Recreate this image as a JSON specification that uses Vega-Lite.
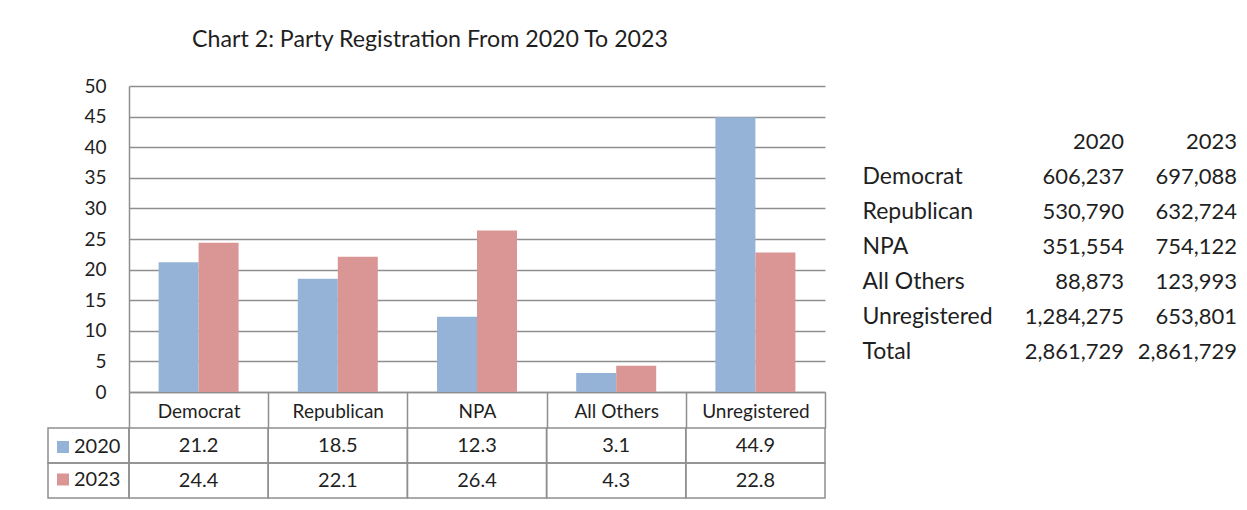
{
  "$schema": "https://vega.github.io/schema/vega-lite/v6.json",
  "padding": {"left": 47, "top": 27, "right": 5, "bottom": 5},
  "background": "white",
  "datasets": {
    "shares": [
      {"party": "Democrat", "year": "2020", "share": 21.2},
      {"party": "Democrat", "year": "2023", "share": 24.4},
      {"party": "Republican", "year": "2020", "share": 18.5},
      {"party": "Republican", "year": "2023", "share": 22.1},
      {"party": "NPA", "year": "2020", "share": 12.3},
      {"party": "NPA", "year": "2023", "share": 26.4},
      {"party": "All Others", "year": "2020", "share": 3.1},
      {"party": "All Others", "year": "2023", "share": 4.3},
      {"party": "Unregistered", "year": "2020", "share": 44.9},
      {"party": "Unregistered", "year": "2023", "share": 22.8}
    ],
    "counts": [
      {"party": "Democrat", "year": "2020", "count": 606237},
      {"party": "Democrat", "year": "2023", "count": 697088},
      {"party": "Republican", "year": "2020", "count": 530790},
      {"party": "Republican", "year": "2023", "count": 632724},
      {"party": "NPA", "year": "2020", "count": 351554},
      {"party": "NPA", "year": "2023", "count": 754122},
      {"party": "All Others", "year": "2020", "count": 88873},
      {"party": "All Others", "year": "2023", "count": 123993},
      {"party": "Unregistered", "year": "2020", "count": 1284275},
      {"party": "Unregistered", "year": "2023", "count": 653801},
      {"party": "Total", "year": "2020", "count": 2861729},
      {"party": "Total", "year": "2023", "count": 2861729}
    ]
  },
  "columns": 3,
  "spacing": {"row": 36, "column": 0},
  "bounds": "flush",
  "concat": [
    {
      "width": 81, "height": 306,
      "data": {"values": [{"blank": ""}]},
      "mark": {"type": "text"},
      "encoding": {"text": {"field": "blank", "type": "nominal"}}
    },
    {
      "width": 696, "height": 306,
      "title": {"text": "Chart 2: Party Registration From 2020 To 2023", "anchor": "middle", "fontSize": 23.2, "fontWeight": "normal", "font": "Lato", "color": "#1f1f1f", "offset": 25, "dx": -47},
      "data": {"name": "shares"},
      "mark": {"type": "bar"},
      "encoding": {
        "x": {
          "field": "party", "type": "nominal", "sort": null,
          "scale": {"paddingInner": 0, "paddingOuter": 0},
          "axis": {"orient": "bottom", "title": null, "labelAngle": 0, "labelFontSize": 19, "labelPadding": -17, "labelBaseline": "middle", "tickBand": "extent", "ticks": true, "tickSize": 36, "tickColor": "#8f8f8f", "tickWidth": 1.5, "domainColor": "#8f8f8f", "domainWidth": 1.5, "grid": false}
        },
        "xOffset": {"field": "year", "type": "nominal", "scale": {"paddingInner": 0, "paddingOuter": 0.74}},
        "y": {
          "field": "share", "type": "quantitative",
          "scale": {"domain": [0, 50], "nice": false},
          "axis": {"title": null, "values": [0, 5, 10, 15, 20, 25, 30, 35, 40, 45, 50], "grid": true, "gridColor": "#8f8f8f", "gridWidth": 1.5, "ticks": false, "labelPadding": 23, "labelFontSize": 19, "domainColor": "#8f8f8f", "domainWidth": 1.5}
        },
        "color": {
          "field": "year", "type": "nominal",
          "scale": {"domain": ["2020", "2023"], "range": ["#95b3d7", "#d99694"]},
          "legend": {"title": null, "orient": "none", "legendX": 5, "legendY": 351, "symbolType": "square", "symbolSize": 144, "symbolStrokeWidth": 0, "symbolOpacity": 1, "labelFontSize": 20, "labelOffset": 1, "rowPadding": 12.5, "padding": 0, "labelColor": "#1f1f1f"}
        }
      }
    },
    {
      "width": 412, "height": 306,
      "data": {"name": "counts"},
      "encoding": {
        "x": {"field": "year", "type": "nominal", "bandPosition": 1, "scale": {"type": "band", "paddingInner": 0, "paddingOuter": 0.823, "align": 1}, "axis": null},
        "y": {
          "field": "party", "type": "nominal", "sort": null,
          "scale": {"type": "band", "domain": [" ", "Democrat", "Republican", "NPA", "All Others", "Unregistered", "Total"], "paddingInner": 0, "paddingOuter": 0.871, "align": 0.631},
          "axis": {"title": null, "orient": "left", "labelAlign": "left", "labelPadding": -37, "ticks": false, "domain": false, "labelFontSize": 23, "labelColor": "#1f1f1f", "labelBaseline": "middle"}
        }
      },
      "layer": [
        {"mark": {"type": "text", "align": "right", "baseline": "middle", "fontSize": 22, "color": "#1f1f1f"}, "encoding": {"text": {"field": "count", "type": "quantitative", "format": ","}}},
        {
          "transform": [{"aggregate": [{"op": "count", "as": "n"}], "groupby": ["year"]}],
          "mark": {"type": "text", "align": "right", "baseline": "middle", "fontSize": 22, "color": "#1f1f1f"},
          "encoding": {"y": {"datum": " ", "type": "nominal"}, "text": {"field": "year", "type": "nominal"}}
        }
      ]
    },
    {
      "width": 81, "height": 70,
      "data": {"name": "shares"},
      "transform": [{"aggregate": [{"op": "count", "as": "n"}], "groupby": ["year"]}],
      "mark": {"type": "rect", "filled": false, "stroke": "#8f8f8f", "strokeWidth": 1.5},
      "encoding": {
        "y": {"field": "year", "type": "nominal", "scale": {"paddingInner": 0, "paddingOuter": 0}, "axis": null}
      }
    },
    {
      "width": 696, "height": 70,
      "data": {"name": "shares"},
      "encoding": {
        "x": {"field": "party", "type": "nominal", "sort": null, "scale": {"paddingInner": 0, "paddingOuter": 0}, "axis": null},
        "y": {"field": "year", "type": "nominal", "scale": {"paddingInner": 0, "paddingOuter": 0}, "axis": null}
      },
      "layer": [
        {"mark": {"type": "rect", "filled": false, "stroke": "#8f8f8f", "strokeWidth": 1.5}},
        {"mark": {"type": "text", "fontSize": 20, "color": "#1f1f1f"}, "encoding": {"text": {"field": "share", "type": "quantitative", "format": ".1f"}}}
      ]
    }
  ],
  "config": {
    "font": "Lato",
    "view": {"stroke": null},
    "axis": {"labelColor": "#1f1f1f", "labelFont": "Lato"},
    "text": {"font": "Lato"}
  }
}
